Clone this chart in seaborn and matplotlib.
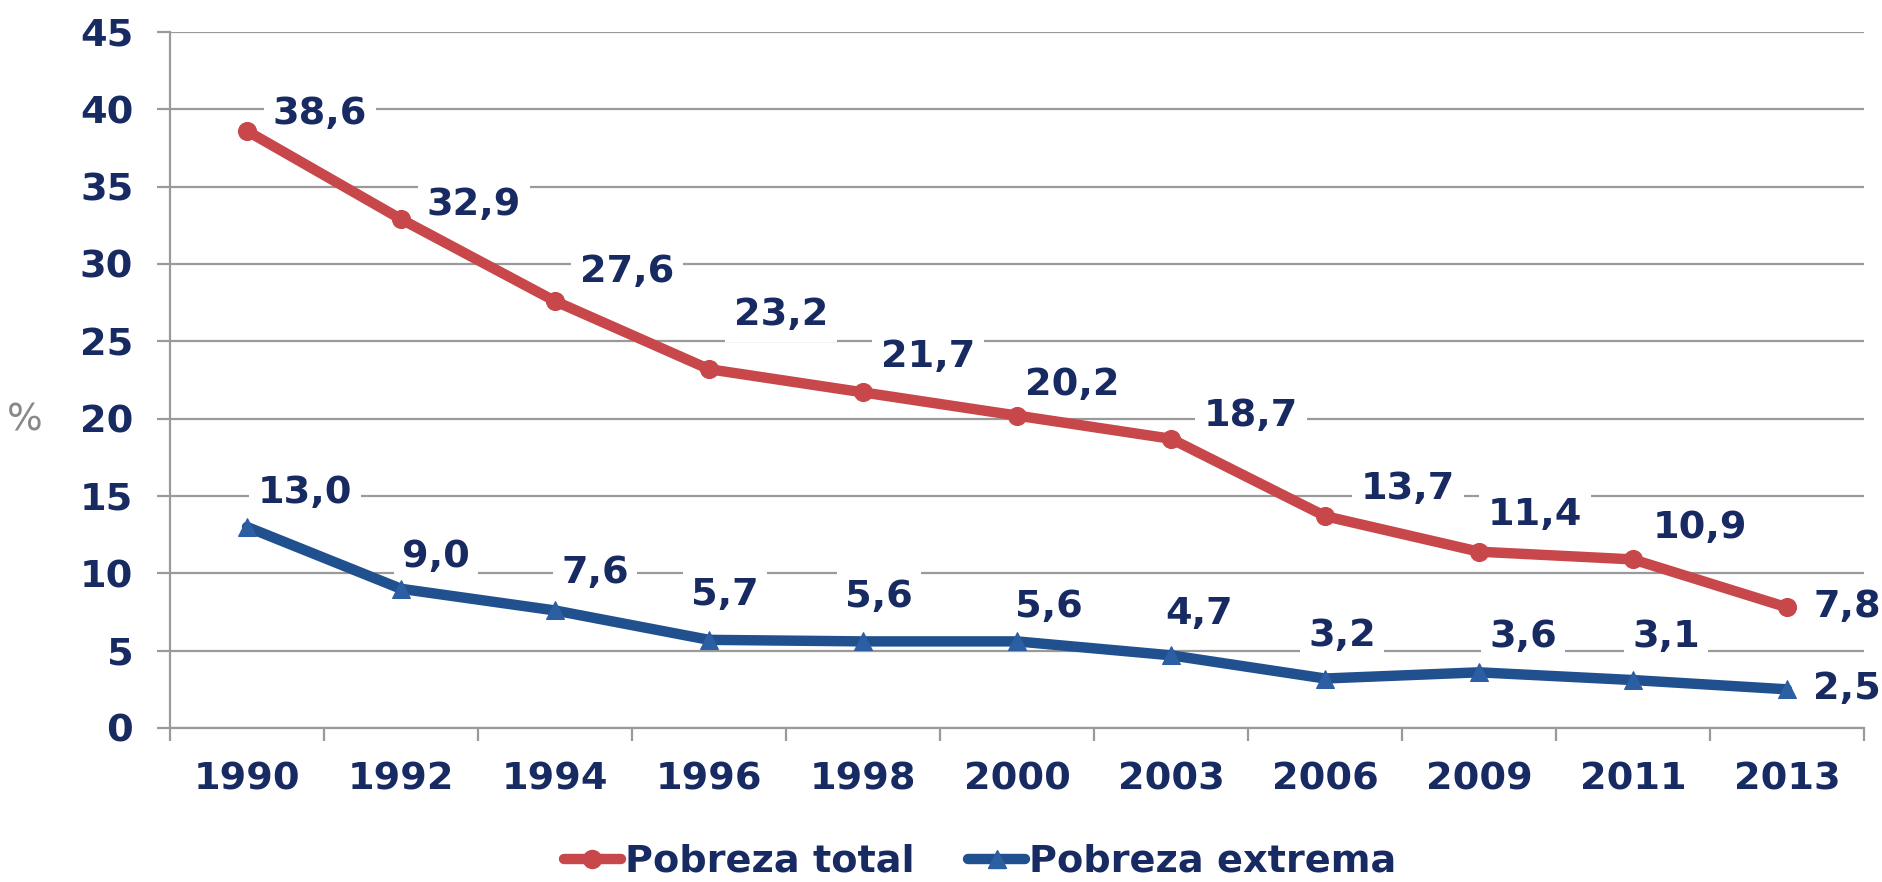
import matplotlib
matplotlib.use("Agg")
import matplotlib.pyplot as plt
import seaborn as sns
import pandas as pd
from matplotlib.ticker import FixedLocator
from matplotlib.lines import Line2D

# ---- data ----
years = ["1990", "1992", "1994", "1996", "1998", "2000", "2003", "2006", "2009", "2011", "2013"]
pobreza_total = [38.6, 32.9, 27.6, 23.2, 21.7, 20.2, 18.7, 13.7, 11.4, 10.9, 7.8]
pobreza_extrema = [13.0, 9.0, 7.6, 5.7, 5.6, 5.6, 4.7, 3.2, 3.6, 3.1, 2.5]
series_names = ["Pobreza total", "Pobreza extrema"]
y_ticks = [0, 5, 10, 15, 20, 25, 30, 35, 40, 45]

# ---- label offsets (pixels) ----
off_total = [(73, 17), (73, 14), (72, 29), (72, 54), (65, 35), (55, 31), (80, 23), (83, 27), (56, 37), (67, 31), (60, 0)]
off_ext = [(58, 34), (35, 32), (40, 37), (16, 45), (16, 44), (32, 34), (28, 41), (17, 43), (44, 35), (33, 43), (60, 0)]

NAVY = "#172A62"
RED = "#C8474A"
BLUE = "#20508E"
BLUE_M = "#2C5EA3"
GRID = "#9A9A9A"
FS = 27.5

sns.set_theme(style="white")
plt.rcParams["font.family"] = ["DejaVu Sans"]

df = pd.DataFrame({
    "year": years * 2,
    "value": pobreza_total + pobreza_extrema,
    "serie": [series_names[0]] * len(years) + [series_names[1]] * len(years),
})

fig = plt.figure(figsize=(18.82, 8.82), dpi=100)
ax = fig.add_axes([170 / 1882, 1 - 728 / 882, (1864 - 170) / 1882, (728 - 32) / 882])

sns.lineplot(data=df, x="year", y="value", hue="serie", style="serie",
             palette={series_names[0]: RED, series_names[1]: BLUE},
             markers={series_names[0]: "o", series_names[1]: "^"},
             dashes=False, sort=False, linewidth=7.5, markersize=13,
             ax=ax, legend=False, zorder=5)

for line in ax.lines:
    if line.get_marker() == "^":
        line.set_markerfacecolor(BLUE_M)
        line.set_markeredgecolor(BLUE_M)
    else:
        line.set_markerfacecolor(RED)
        line.set_markeredgecolor(RED)

ax.set_xlim(-0.5, len(years) - 0.5)
ax.set_ylim(0, 45)
ax.yaxis.set_major_locator(FixedLocator(y_ticks))
ax.grid(axis="y", color=GRID, linewidth=1.6, zorder=0)
ax.grid(axis="x", visible=False)
ax.set_axisbelow(True)

for s in ["top", "right"]:
    ax.spines[s].set_visible(False)
for s in ["left", "bottom"]:
    ax.spines[s].set_color(GRID)
    ax.spines[s].set_linewidth(1.6)

ax.tick_params(axis="y", which="major", direction="out", length=9.5, width=1.6,
               color=GRID, pad=17, labelsize=FS, labelcolor=NAVY, left=True)
ax.tick_params(axis="x", which="major", length=0, pad=24, labelsize=FS, labelcolor=NAVY)
ax.xaxis.set_minor_locator(FixedLocator([i - 0.5 for i in range(len(years) + 1)]))
ax.tick_params(axis="x", which="minor", direction="out", length=9.5, width=1.6,
               color=GRID, bottom=True)
for lab in ax.get_xticklabels() + ax.get_yticklabels():
    lab.set_fontweight("bold")

ax.set_xlabel("")
ax.set_ylabel("%", rotation=0, color="#888888", fontsize=27, va="center", ha="center")
ax.yaxis.set_label_coords(-0.086, 0.4425)

bbox = dict(boxstyle="square,pad=0.22", fc="white", ec="none")
for vals, offs in ((pobreza_total, off_total), (pobreza_extrema, off_ext)):
    for i, (v, o) in enumerate(zip(vals, offs)):
        ax.annotate(f"{v:.1f}".replace(".", ","), (i, v), xytext=o, textcoords="offset pixels",
                    ha="center", va="center", fontsize=FS, fontweight="bold", color=NAVY,
                    bbox=bbox, zorder=4, annotation_clip=False)

handles = [
    Line2D([], [], color=RED, lw=7.5, marker="o", markersize=13, markerfacecolor=RED, markeredgecolor=RED),
    Line2D([], [], color=BLUE, lw=7.5, marker="^", markersize=13, markerfacecolor=BLUE_M, markeredgecolor=BLUE_M),
]
leg = fig.legend(handles, series_names, loc="center", bbox_to_anchor=(980 / 1882, 1 - 862 / 882),
                 ncol=2, frameon=False, handlelength=1.5, handletextpad=0.1, columnspacing=1.4,
                 borderpad=0, prop={"size": FS, "weight": "bold"})
for t in leg.get_texts():
    t.set_color(NAVY)

fig.savefig("out.png", dpi=100, facecolor="white")
